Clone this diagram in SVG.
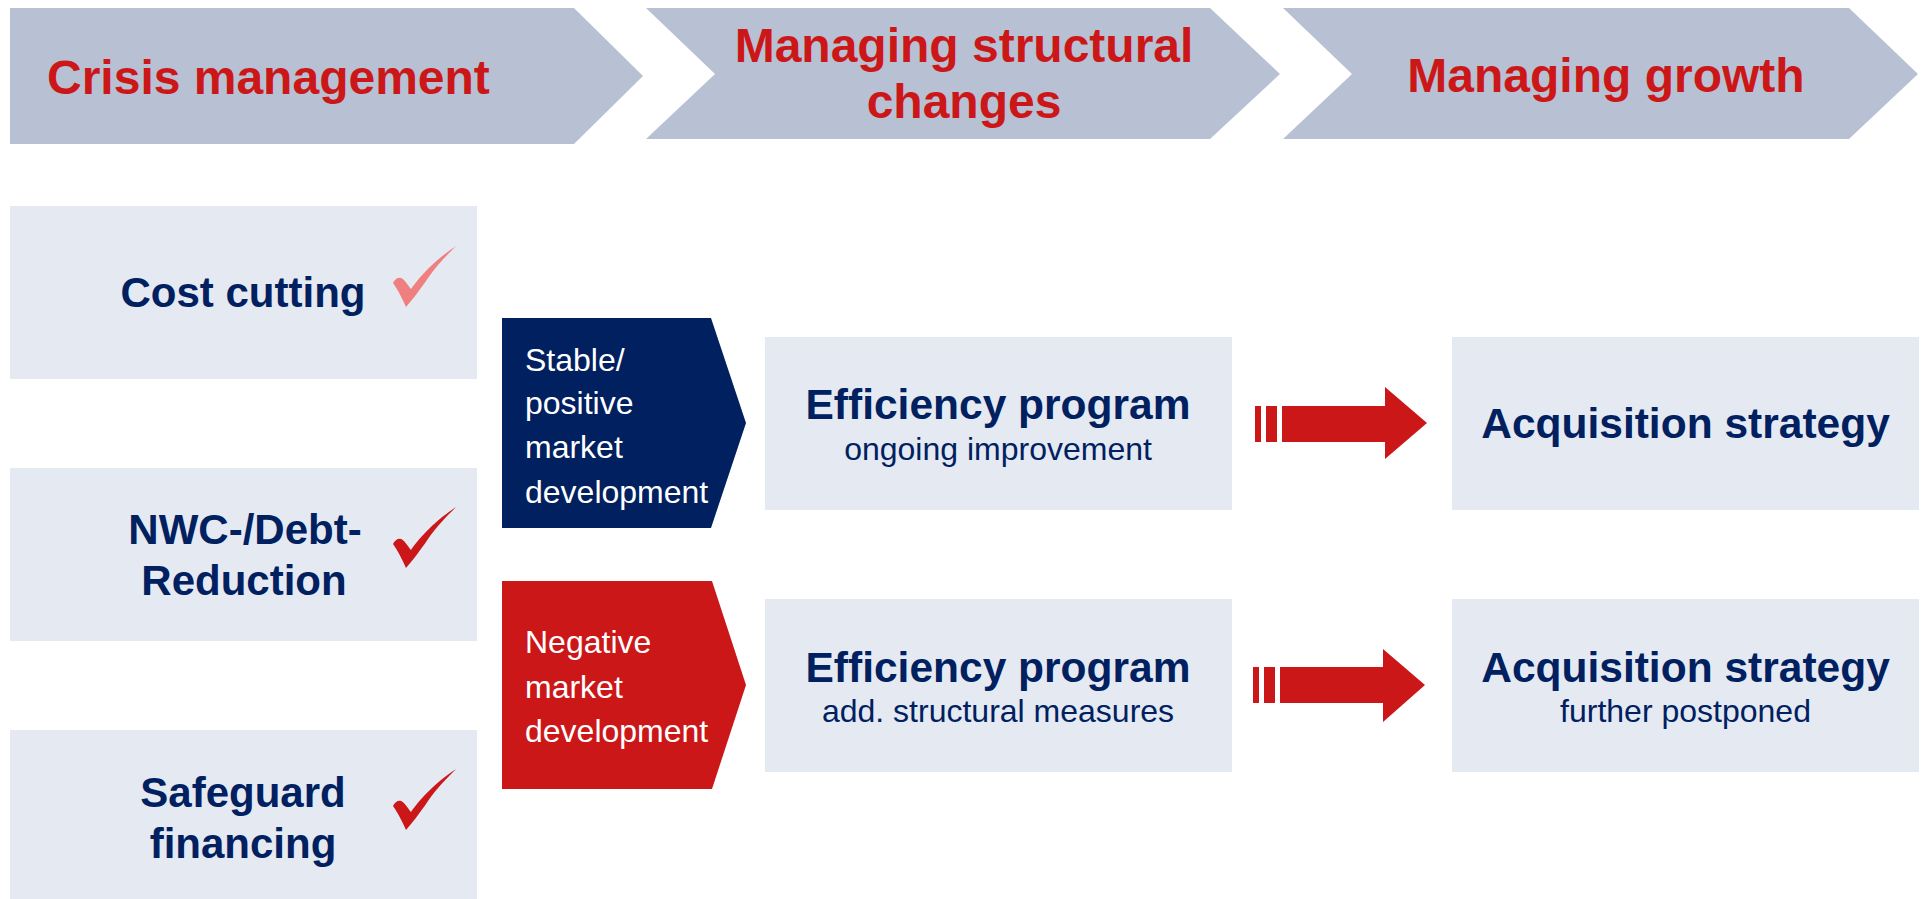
<svg xmlns="http://www.w3.org/2000/svg" width="1923" height="899" viewBox="0 0 1923 899">
<style>
.chev{fill:#B8C1D3}
.box{fill:#E4E9F2}
.hd{font-family:"Liberation Sans",Arial,sans-serif;font-weight:bold;font-size:48px;fill:#CC1719}
.bt{font-family:"Liberation Sans",Arial,sans-serif;font-weight:bold;font-size:42px;fill:#002060}
.tt{font-family:"Liberation Sans",Arial,sans-serif;font-weight:bold;font-size:42.5px;fill:#002060}
.st{font-family:"Liberation Sans",Arial,sans-serif;font-size:32px;fill:#002060}
.wt{font-family:"Liberation Sans",Arial,sans-serif;font-size:32px;fill:#FFFFFF}
.arr{fill:#CC1719}
</style>
<defs>
<path id="chk" d="M1,37 C3,33 6,31 9,32 C12,33 15,38 19,43 C26,33 40,16 64,0 C56,8 44,20 36,32 C28,44 20,54 14,61 C11,54 6,44 1,37 Z"/>
</defs>
<rect width="1923" height="899" fill="#FFFFFF"/>

<g id="phase-crisis">
<path class="chev" d="M10,8 L574,8 L643,76 L574,144 L10,144 Z"/>
<text class="hd" x="47" y="94">Crisis management</text>
</g>
<g id="phase-structural">
<path class="chev" d="M646,8 L1210,8 L1280,74 L1210,139 L646,139 L715,74 Z"/>
<text class="hd" x="964" y="62" text-anchor="middle">Managing structural</text>
<text class="hd" x="964" y="118" text-anchor="middle">changes</text>
</g>
<g id="phase-growth">
<path class="chev" d="M1283,8 L1849,8 L1918,74 L1849,139 L1283,139 L1352,74 Z"/>
<text class="hd" x="1606" y="92" text-anchor="middle">Managing growth</text>
</g>

<g id="cost-cutting">
<rect class="box" x="10" y="206" width="467" height="173"/>
<text class="bt" x="243" y="307" text-anchor="middle">Cost cutting</text>
<use href="#chk" x="392" y="246" fill="#F08080"/>
</g>
<g id="nwc-debt">
<rect class="box" x="10" y="468" width="467" height="173"/>
<text class="bt" x="245" y="544" text-anchor="middle">NWC-/Debt-</text>
<text class="bt" x="244" y="595" text-anchor="middle">Reduction</text>
<use href="#chk" x="392" y="507" fill="#CC1719"/>
</g>
<g id="safeguard">
<rect class="box" x="10" y="730" width="467" height="173"/>
<text class="bt" x="243" y="807" text-anchor="middle">Safeguard</text>
<text class="bt" x="243" y="858" text-anchor="middle">financing</text>
<use href="#chk" x="392" y="769" fill="#CC1719"/>
</g>

<g id="stable-market">
<path d="M502,318 L711,318 L746,423 L711,528 L502,528 Z" fill="#002060"/>
<text class="wt" x="525" y="371">Stable/</text>
<text class="wt" x="525" y="414">positive</text>
<text class="wt" x="525" y="458">market</text>
<text class="wt" x="525" y="503">development</text>
</g>
<g id="negative-market">
<path d="M502,581 L712,581 L746,685 L712,789 L502,789 Z" fill="#CC1719"/>
<text class="wt" x="525" y="653">Negative</text>
<text class="wt" x="525" y="698">market</text>
<text class="wt" x="525" y="742">development</text>
</g>

<g id="efficiency-1">
<rect class="box" x="765" y="337" width="467" height="173"/>
<text class="tt" x="998" y="419" text-anchor="middle">Efficiency program</text>
<text class="st" x="998" y="460" text-anchor="middle" font-size="33.5">ongoing improvement</text>
</g>
<g id="efficiency-2">
<rect class="box" x="765" y="599" width="467" height="173"/>
<text class="tt" x="998" y="682" text-anchor="middle">Efficiency program</text>
<text class="st" x="998" y="722" text-anchor="middle">add. structural measures</text>
</g>

<g id="acquisition-1">
<rect class="box" x="1452" y="337" width="467" height="173"/>
<text class="tt" x="1685.5" y="438" text-anchor="middle">Acquisition strategy</text>
</g>
<g id="acquisition-2">
<rect class="box" x="1452" y="599" width="467" height="173"/>
<text class="tt" x="1685.5" y="682" text-anchor="middle">Acquisition strategy</text>
<text class="st" x="1685.5" y="722" text-anchor="middle">further postponed</text>
</g>

<g id="connectors">
<g class="arr">
<rect x="1255" y="406" width="6" height="36"/>
<rect x="1266" y="406" width="11" height="36"/>
<path d="M1282,406 L1385,406 L1385,387 L1427,423 L1385,459 L1385,442 L1282,442 Z"/>
</g>
<g class="arr">
<rect x="1253" y="667" width="6" height="36"/>
<rect x="1264" y="667" width="11" height="36"/>
<path d="M1280,667 L1383,667 L1383,649 L1425,685 L1383,722 L1383,703 L1280,703 Z"/>
</g>
</g>
</svg>
